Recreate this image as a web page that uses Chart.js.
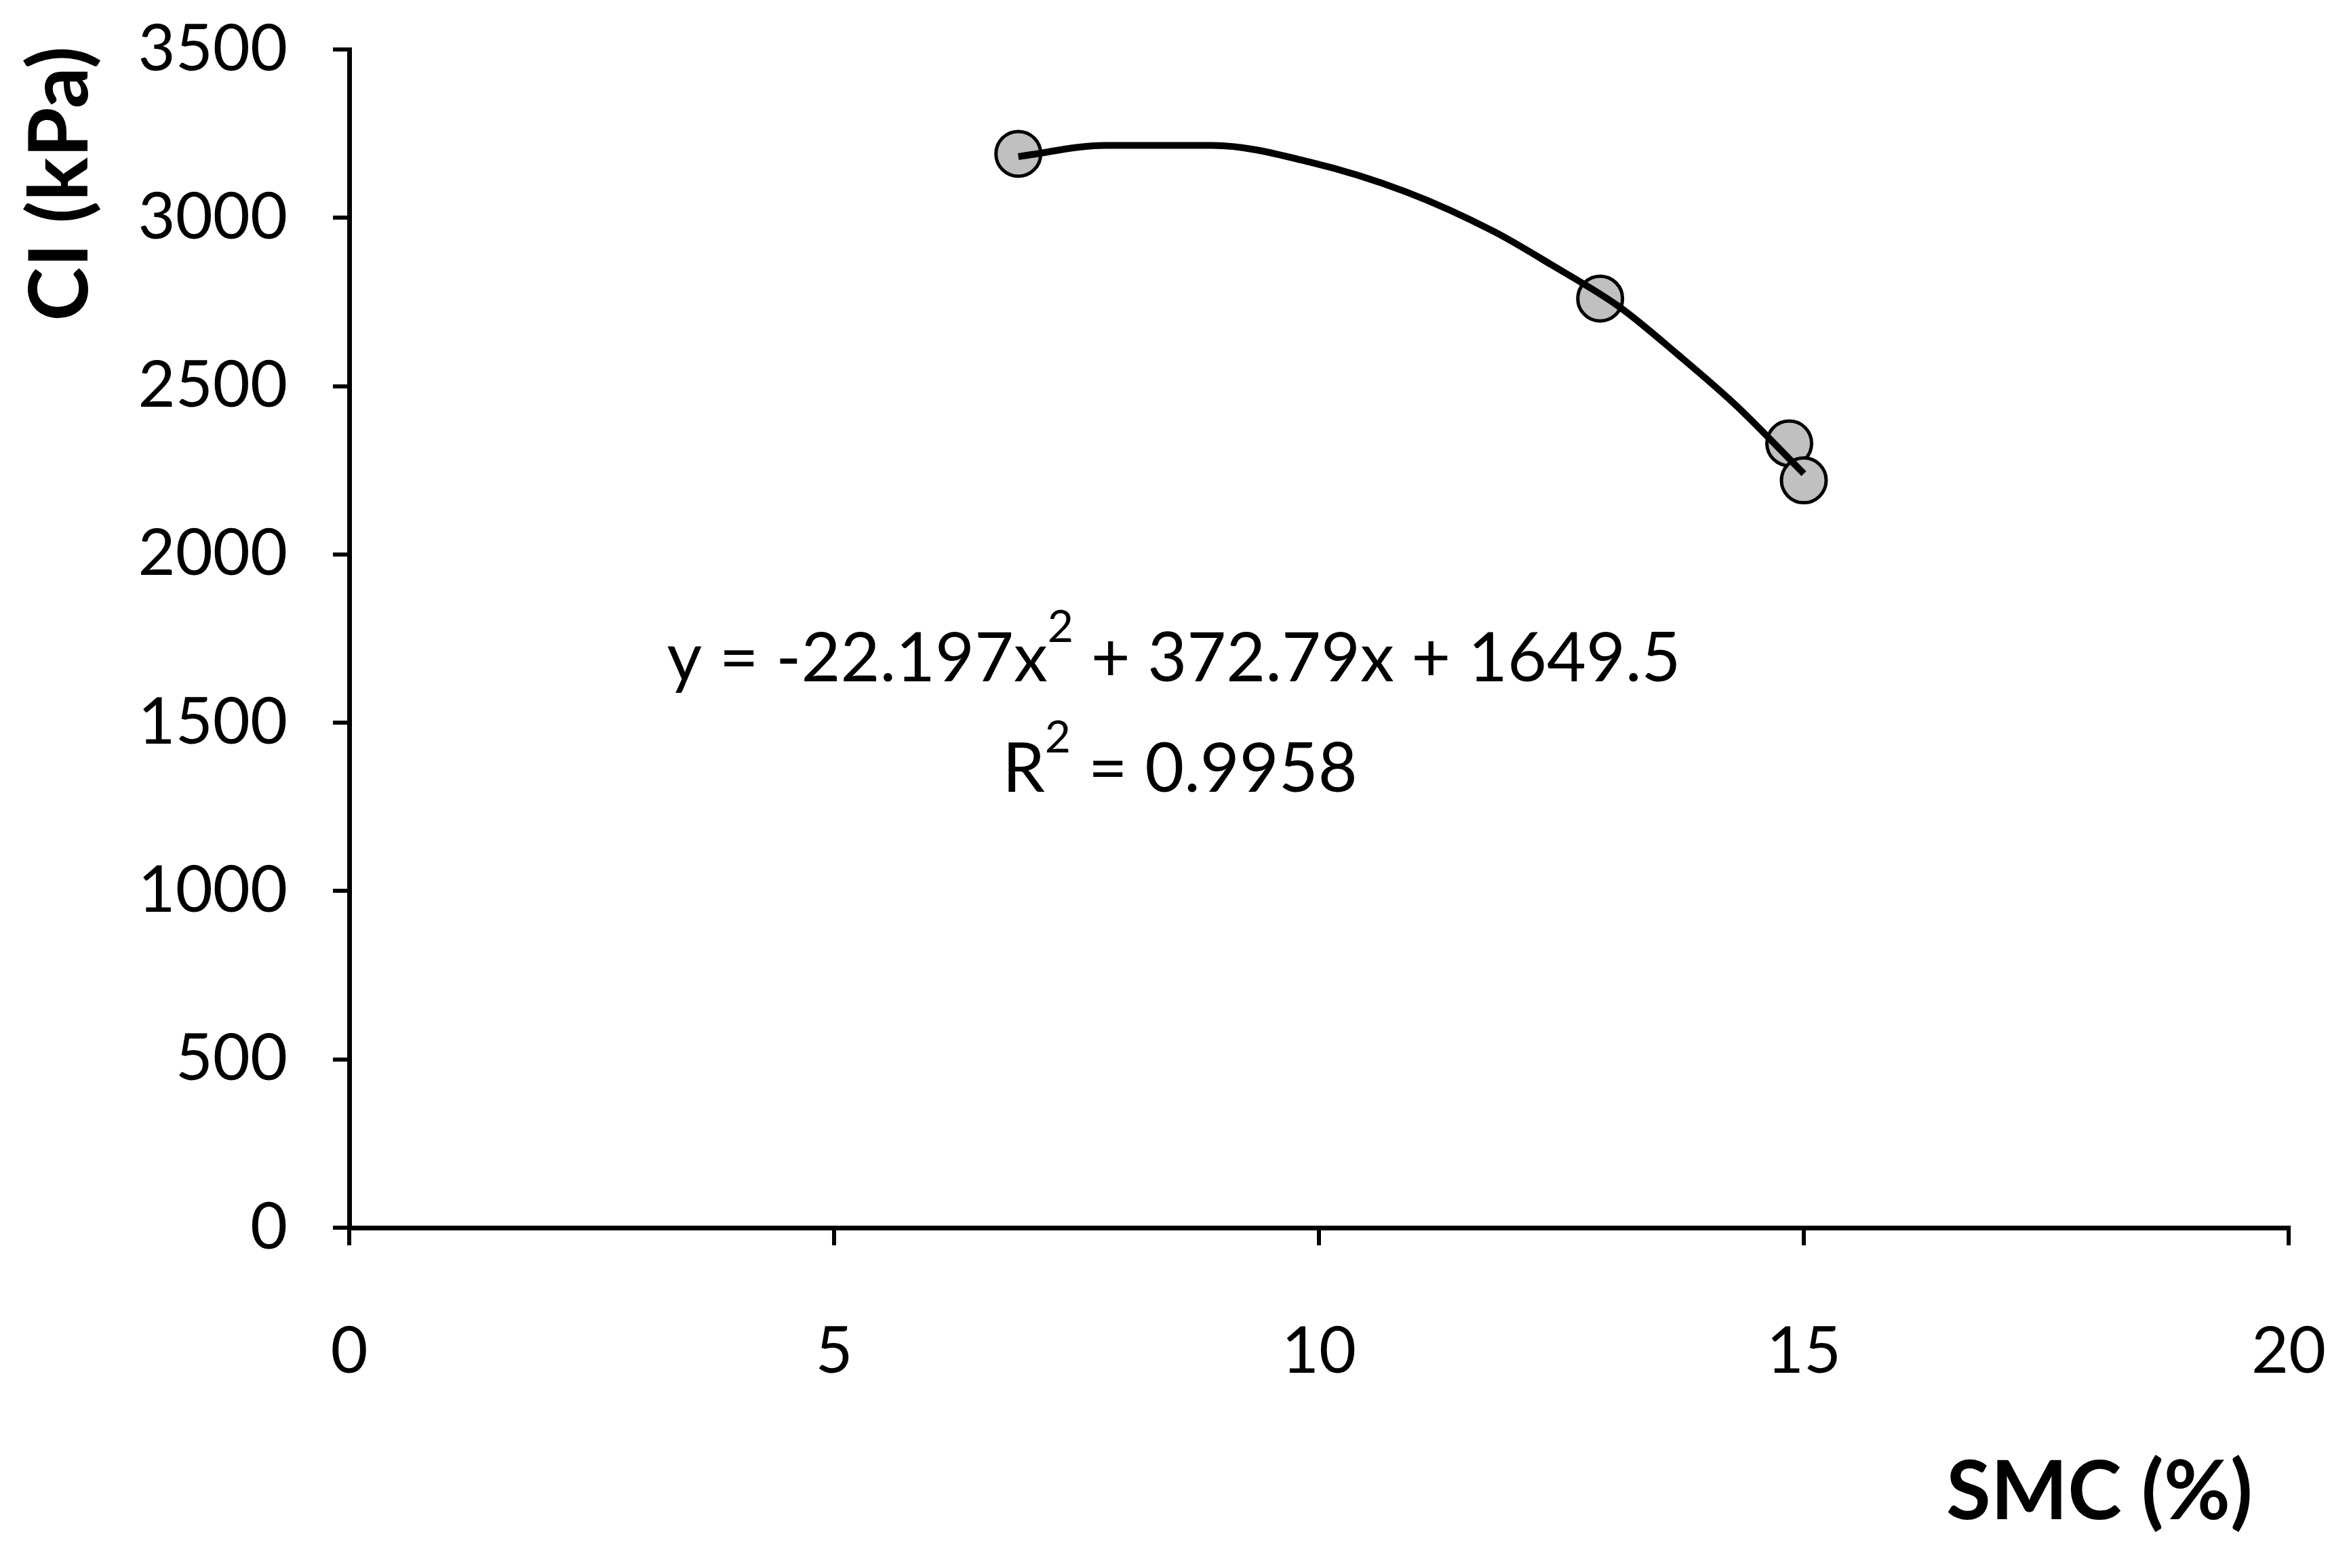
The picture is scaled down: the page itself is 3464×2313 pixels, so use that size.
<!DOCTYPE html>
<html>
<head>
<meta charset="utf-8">
<script src="https://cdn.jsdelivr.net/npm/chart.js@4.4.0/dist/chart.umd.min.js"></script>
<style>
  html, body { margin: 0; padding: 0; background: #fff; }
</style>
</head>
<body>
<canvas id="ciChart" width="3464" height="2313"></canvas>
<script>
// Measured points: soil moisture content (%) vs cone index (kPa)
const smc = [6.9, 12.9, 14.85, 15.0];
const ci = [3190, 2760, 2330, 2220];

// Polynomial trendline
const trendSmc = [6.9, 7.8, 8.9, 9.9, 10.9, 11.8, 12.4, 13.1, 13.7, 14.3, 15.0];
const trendCi = [3182, 3215, 3215, 3166, 3077, 2960, 2860, 2735, 2594, 2443, 2240];

// Axis ranges / tick steps
const xRange = [0, 20];
const xStep = 5;
const yRange = [0, 3500];
const yStep = 500;

const eqLine = ["y = -22.197x", "2", " + 372.79x + 1649.5"];
const r2Line = ["R", "2", " = 0.9958"];

const FONT = "Lato, 'Open Sans', sans-serif";

function toXY(xs, ys) {
  return xs.map((x, i) => ({ x, y: ys[i] }));
}

// draws text with a superscript middle part, centred on cx
function drawSup(ctx, parts, cx, baseline, size, supSize, supRise) {
  const big = `${size}px ${FONT}`;
  const small = `${supSize}px ${FONT}`;
  ctx.font = big;
  const w0 = ctx.measureText(parts[0]).width;
  const w2 = ctx.measureText(parts[2]).width;
  ctx.font = small;
  const w1 = ctx.measureText(parts[1]).width;
  let x = cx - (w0 + w1 + w2) / 2;
  ctx.textAlign = "left";
  ctx.textBaseline = "alphabetic";
  ctx.font = big;
  ctx.fillText(parts[0], x, baseline);
  x += w0;
  ctx.font = small;
  ctx.fillText(parts[1], x, baseline - supRise);
  x += w1;
  ctx.font = big;
  ctx.fillText(parts[2], x, baseline);
}

const textPlugin = {
  id: "texts",
  afterDraw(chart) {
    const ctx = chart.ctx;
    ctx.save();
    ctx.fillStyle = "#000";

    // y axis title, rotated, near the top
    ctx.save();
    ctx.translate(129, 271);
    ctx.rotate(-Math.PI / 2);
    ctx.font = `bold 120px ${FONT}`;
    ctx.textAlign = "center";
    ctx.textBaseline = "alphabetic";
    ctx.fillText("CI (kPa)", 0, 0);
    ctx.restore();

    // x axis title, bottom right
    ctx.font = `bold 120px ${FONT}`;
    ctx.textAlign = "right";
    ctx.textBaseline = "alphabetic";
    ctx.fillText("SMC (%)", 3322, 2241);

    // trendline equation
    drawSup(ctx, eqLine, 1731, 1005, 100, 66, 58);
    drawSup(ctx, r2Line, 1740, 1168, 100, 66, 58);

    ctx.restore();
  },
};

new Chart(document.getElementById("ciChart"), {
  type: "scatter",
  data: {
    datasets: [
      {
        type: "line",
        data: toXY(trendSmc, trendCi),
        borderColor: "#000",
        borderWidth: 10,
        pointRadius: 0,
        fill: false,
        cubicInterpolationMode: "monotone",
      },
      {
        data: toXY(smc, ci),
        backgroundColor: "#c0c0c0",
        borderColor: "#000",
        borderWidth: 5,
        pointRadius: 33,
        pointHoverRadius: 33,
      },
    ],
  },
  options: {
    responsive: false,
    animation: false,
    devicePixelRatio: 1,
    layout: {
      padding: { left: 0, right: 89, top: 73, bottom: 0 },
    },
    plugins: {
      legend: { display: false },
      tooltip: { enabled: false },
    },
    scales: {
      x: {
        type: "linear",
        min: xRange[0],
        max: xRange[1],
        ticks: {
          stepSize: xStep,
          color: "#000",
          font: { family: FONT, size: 95 },
          padding: 100,
          maxRotation: 0,
          callback: (v) => String(v),
        },
        grid: {
          drawOnChartArea: false,
          drawTicks: true,
          tickLength: 26,
          color: "#000",
          lineWidth: 6,
        },
        border: { color: "#000", width: 7 },
        afterFit(scale) {
          scale.height = 502;
          scale.paddingLeft = 0;
          scale.paddingRight = 0;
        },
      },
      y: {
        min: yRange[0],
        max: yRange[1],
        ticks: {
          stepSize: yStep,
          color: "#000",
          font: { family: FONT, size: 95 },
          padding: 67,
          callback: (v) => String(v),
        },
        grid: {
          drawOnChartArea: false,
          drawTicks: true,
          tickLength: 24,
          color: "#000",
          lineWidth: 6,
        },
        border: { color: "#000", width: 7 },
        afterFit(scale) {
          scale.width = 515;
          scale.paddingTop = 0;
          scale.paddingBottom = 0;
        },
      },
    },
  },
  plugins: [textPlugin],
});
</script>
</body>
</html>
